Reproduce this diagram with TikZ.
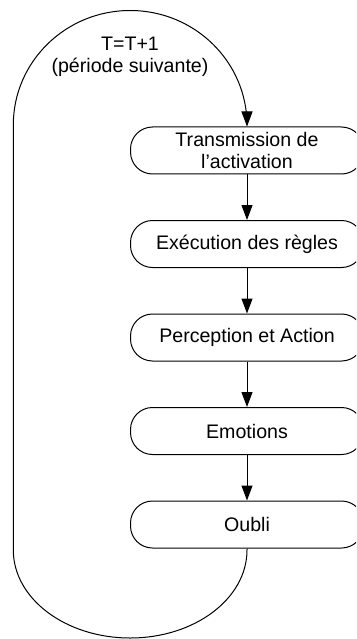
\documentclass[tikz,border=0pt]{standalone}
\usepackage{fontspec}
\setmainfont{Liberation Sans}
\usetikzlibrary{arrows.meta}
\begin{document}
\begin{tikzpicture}[x=1pt,y=-1pt,
  every node/.style={font=\fontsize{19.6}{22.4}\selectfont, inner sep=0pt},
  stepbox/.style={draw, line width=1pt, minimum width=233pt, minimum height=47pt, rounded corners=22pt, align=center},
  arr/.style={-{Triangle[length=15pt,width=11pt]}, line width=1pt}
]
\useasboundingbox (0,0) rectangle (356,639);
\clip (0,0) rectangle (356,639);
\fill[white] (0,0) rectangle (356,639);

\node[stepbox] (t1) at (247,150.5) {Transmission de\\l’activation};
\node[stepbox] (t2) at (247,244) {Exécution des règles};
\node[stepbox] (t3) at (247,337.5) {Perception et Action};
\node[stepbox] (t4) at (247,431) {Emotions};
\node[stepbox] (t5) at (247,524.5) {Oubli};

\node[align=center] (lbl) at (130,56.5) {T=T+1\\(période suivante)};

\draw[arr] (t1) -- (t2);
\draw[arr] (t2) -- (t3);
\draw[arr] (t3) -- (t4);
\draw[arr] (t4) -- (t5);

\coordinate (bs) at (247,550);
\coordinate (tl) at (13.3,125);
\draw[arr] (t5.south) -- (bs)
  arc[start angle=0, end angle=180, x radius=116.85, y radius=88]
  -- (tl)
  arc[start angle=180, end angle=360, x radius=116.85, y radius=114.5]
  -- (t1.north);
\end{tikzpicture}
\end{document}
